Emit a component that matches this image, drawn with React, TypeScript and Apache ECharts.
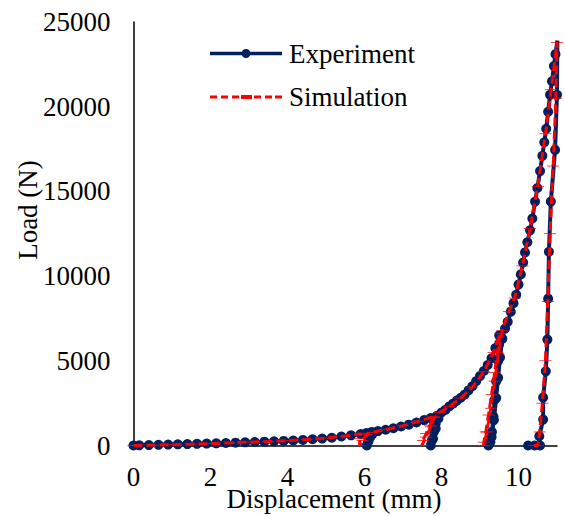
import React, { useEffect, useRef } from "react";
import * as echarts from "echarts";

const seriesNames = ["Experiment", "Simulation"];
const xTitle = "Displacement (mm)";
const yTitle = "Load (N)";

// Experiment: displacement (mm), load (N)
const experimentX = [
  0, 0.15, 0.4, 0.65, 0.9, 1.15, 1.4, 1.65, 1.9, 2.15, 2.4, 2.65, 2.9, 3.15, 3.4, 3.65, 3.9, 4.15, 4.4, 4.65, 4.9, 5.15,
  5.4, 5.65, 5.9, 6.05, 6.19, 6.15, 6.1, 6.06, 6.1, 6.2, 6.35, 6.55, 6.75, 6.95, 7.15, 7.35, 7.55, 7.72, 7.88, 7.85,
  7.8, 7.75, 7.72, 7.78, 7.85, 7.92, 8.0, 8.1, 8.2, 8.3, 8.4, 8.5, 8.6, 8.7, 8.8, 8.9, 9.0, 9.1, 9.2, 9.3, 9.4, 9.5,
  9.5, 9.47, 9.42, 9.38, 9.35, 9.31, 9.27, 9.22, 9.3, 9.36, 9.42, 9.47, 9.52, 9.58, 9.65, 9.72, 9.8, 9.87, 9.94, 10.0,
  10.06, 10.12, 10.17, 10.23, 10.3, 10.36, 10.43, 10.49, 10.56, 10.62, 10.67, 10.72, 10.77, 10.82, 10.87, 10.92, 10.96,
  11.01, 11.0, 10.95, 10.84, 10.79, 10.77, 10.75, 10.71, 10.64, 10.64, 10.54, 10.56, 10.42, 10.25
];
const experimentY = [
  0, 10, 25, 40, 55, 70, 85, 100, 115, 130, 150, 165, 185, 205, 225, 245, 270, 295, 330, 370, 410, 460,
  530, 600, 680, 740, 800, 500, 250, 0, 250, 650, 850, 930, 1020, 1120, 1230, 1360, 1500, 1620, 1750, 1300,
  800, 300, 0, 400, 1000, 1600, 1950, 2100, 2300, 2470, 2650, 2820, 3000, 3250, 3500, 3800, 4100, 4400, 4750, 5150, 5750, 6500,
  6000, 5000, 3800, 2700, 1700, 800, 200, 0, 500, 1500, 2800, 4000, 5200, 6300, 6900, 7300, 7900, 8400, 8900, 9500,
  10100, 10800, 11400, 12000, 12700, 13400, 14400, 15200, 16200, 17100, 17900, 18700, 19700, 20700, 21500, 22400, 23100,
  23900, 20700, 17450, 14400, 11440, 8670, 6250, 4380, 2830, 1530, 550, 0, 0, 0
];

// Simulation: displacement (mm), load (N)
const simulationX = [
  0, 0.5, 1, 1.5, 2, 2.5, 3, 3.5, 4, 4.5, 5, 5.5, 5.9, 5.88, 5.87, 5.95, 6.05, 6.2, 6.6, 7.0, 7.4, 7.79, 7.7, 7.6,
  7.52, 7.49, 7.6, 7.72, 7.82, 7.95, 8.2, 8.5, 8.8, 9.1, 9.35, 9.52, 9.45, 9.38, 9.3, 9.22, 9.15, 9.1, 9.09, 9.18,
  9.28, 9.38, 9.48, 9.58, 9.75, 9.9, 10.1, 10.3, 10.5, 10.7, 10.85, 11.0, 10.97, 10.9, 10.82, 10.76, 10.7, 10.62,
  10.55, 10.5, 10.4
];
const simulationY = [
  0, 25, 50, 80, 115, 155, 195, 240, 290, 350, 440, 560, 700, 400, 0, 300, 650, 780, 960, 1170, 1430, 1700, 1200, 700,
  300, 0, 500, 1100, 1650, 1950, 2300, 2800, 3450, 4350, 5500, 6600, 5500, 4300, 3000, 1800, 800, 200, 0, 800,
  2200, 3800, 5400, 6800, 7900, 8700, 10600, 12800, 15300, 18400, 21000, 23800, 20500, 16500, 12500, 8500, 5000, 2500,
  800, 0, 0
];

const xTicks = [0, 2, 4, 6, 8, 10];
const yTicks = [0, 5000, 10000, 15000, 20000, 25000];

const FONT = "Liberation Serif";
const DASH_SYMBOL = "path://M0,0 H16 V4 H0 Z";
// legend icons (72 x 11 box)
const EXP_ICON =
  "path://M0,3.7 H72 V7.3 H0 Z M31.5,5.5 A4.5,4.5 0 1 1 40.5,5.5 A4.5,4.5 0 1 1 31.5,5.5 Z M0,0.999 H0.001 V1 H0 Z M0,10 H0.001 V10.001 H0 Z";
const SIM_ICON =
  "path://M0,4 H7 V7 H0 Z M11,4 H18 V7 H11 Z M22,4 H29 V7 H22 Z M31,3.5 H42 V7.5 H31 Z M44,4 H51 V7 H44 Z M55,4 H62 V7 H55 Z M65,4 H72 V7 H65 Z M0,0 H0.001 V0.001 H0 Z M0,10.999 H0.001 V11 H0 Z";

export default function App() {
  const ref = useRef<HTMLDivElement>(null);
  useEffect(() => {
    if (!ref.current) return;
    const chart = echarts.init(ref.current, undefined, { renderer: "svg" });
    const exp = experimentX.map((x, i) => [x, experimentY[i]]);
    const sim = simulationX.map((x, i) => [x, simulationY[i]]);
    chart.setOption({
      animation: false,
      backgroundColor: "#ffffff",
      grid: { left: 133.5, right: 8, top: 22, bottom: 70.5, containLabel: false },
      xAxis: {
        type: "value",
        min: 0,
        max: 11,
        interval: 2,
        axisLine: { show: true, lineStyle: { color: "#000", width: 1.5 } },
        axisTick: { show: false },
        splitLine: { show: false },
        axisLabel: {
          margin: 18,
          fontFamily: FONT,
          fontSize: 27,
          color: "#000",
          showMaxLabel: false,
          formatter: (v: number) => (xTicks.includes(v) ? String(v) : ""),
        },
      },
      yAxis: {
        type: "value",
        min: 0,
        max: 25000,
        interval: 5000,
        axisLine: { show: true, lineStyle: { color: "#000", width: 1.5 } },
        axisTick: { show: false },
        splitLine: { show: false },
        axisLabel: {
          margin: 23,
          fontFamily: FONT,
          fontSize: 27,
          color: "#000",
          formatter: (v: number) => (yTicks.includes(v) ? String(v) : ""),
        },
      },
      legend: {
        orient: "vertical",
        left: 205,
        top: 35,
        itemWidth: 72,
        itemHeight: 11,
        itemGap: 16.4,
        textStyle: { fontFamily: FONT, fontSize: 27, color: "#000", padding: [0, 0, 0, 2] },
        data: [
          { name: seriesNames[0], icon: EXP_ICON, itemStyle: { color: "#002060", borderWidth: 0 } },
          { name: seriesNames[1], icon: SIM_ICON, itemStyle: { color: "#FF0000", borderWidth: 0 } },
        ],
      },
      series: [
        {
          name: seriesNames[0],
          type: "line",
          data: exp,
          symbol: "circle",
          symbolSize: 10,
          itemStyle: { color: "#002060" },
          lineStyle: { color: "#002060", width: 4 },
          z: 2,
        },
        {
          name: seriesNames[1],
          type: "line",
          data: sim,
          symbol: DASH_SYMBOL,
          symbolKeepAspect: true,
          symbolSize: [12, 3],
          itemStyle: { color: "#FF0000" },
          lineStyle: { color: "#FF0000", width: 3, type: [9, 4] },
          z: 3,
        },
      ],
      graphic: [
        {
          type: "text",
          x: 334,
          y: 499,
          style: {
            text: xTitle,
            fontFamily: FONT,
            fontSize: 27,
            fill: "#000",
            align: "center",
            verticalAlign: "middle",
          },
        },
        {
          type: "text",
          x: 28,
          y: 210,
          rotation: Math.PI / 2,
          style: {
            text: yTitle,
            fontFamily: FONT,
            fontSize: 27,
            fill: "#000",
            align: "center",
            verticalAlign: "middle",
          },
        },
      ],
    });
    return () => chart.dispose();
  }, []);
  return (
    <div
      ref={ref}
      style={{ position: "fixed", left: 0, top: 0, width: 565, height: 516, background: "#fff" }}
    />
  );
}
